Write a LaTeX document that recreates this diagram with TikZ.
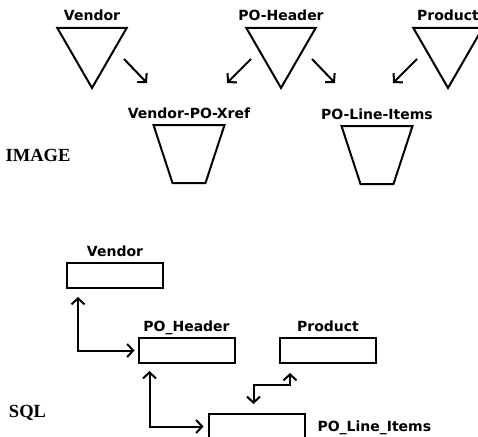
\documentclass[tikz,border=0pt]{standalone}
\usepackage{fontspec}
\setmainfont{Liberation Serif}
\newfontfamily\lblfont{DejaVu Sans}
\usetikzlibrary{arrows.meta,positioning,shapes.geometric}

\begin{document}
\begin{tikzpicture}[x=1pt, y=-1pt,
    line width=2pt,
    lbl/.style={
        font=\lblfont\bfseries\fontsize{14}{16}\selectfont,
        text height=10.2pt,
        text depth=0pt,
        inner sep=1pt
    },
    index/.style={
        draw,
        regular polygon,
        regular polygon sides=3,
        shape border rotate=180,
        minimum size=80pt,
        inner sep=0pt,
        outer sep=0pt,
        label={[lbl, label distance=5pt]above:#1}
    },
    cup/.style={
        rectangle,
        minimum width=71pt,
        minimum height=58pt,
        inner sep=0pt,
        outer sep=0pt,
        label={[lbl, label distance=5pt]above:#1}
    },
    tbl/.style={
        draw,
        rectangle,
        minimum width=96pt,
        minimum height=25pt,
        inner sep=0pt
    },
    kind/.style={font=\bfseries\fontsize{18.5}{20}\selectfont},
    >={Straight Barb[length=6pt,width=13pt]}
]
\useasboundingbox (0,0) rectangle (478,436);

% IMAGE part
\node[kind] (image) at (38,155) {IMAGE};
\node[index=Vendor] (vendor) at (92,48) {};
\node[index=PO-Header] (poheader) at (281,48) {};
\node[index=Product] (product) at (448,48) {};
\node[cup=Vendor-PO-Xref] (xref) at (189,154) {};
\node[cup=PO-Line-Items] (lineitems) at (377,155) {};
\foreach \c in {xref,lineitems}
    \draw (\c.north west) -- (\c.north east)
        -- ([xshift=-19pt]\c.south east) -- ([xshift=19pt]\c.south west) -- cycle;

\coordinate (v1) at (124,59);  \coordinate (v2) at (147,83);
\coordinate (h1) at (251,59);  \coordinate (h2) at (227,83);
\coordinate (h3) at (312,59);  \coordinate (h4) at (335,83);
\coordinate (p1) at (417,59);  \coordinate (p2) at (393,83);
\draw[->] (v1) -- (v2);
\draw[->] (h1) -- (h2);
\draw[->] (h3) -- (h4);
\draw[->] (p1) -- (p2);

% SQL part
\node[kind] (sql) at (27.5,413) {SQL};
\node[tbl, label={[lbl, label distance=4pt]above:Vendor}] (sqlvendor) at (115,275.5) {};
\node[tbl, label={[lbl, label distance=4pt]above:PO\_Header}] (sqlheader) at (186.5,350.5) {};
\node[tbl, label={[lbl, label distance=4pt]above:Product}] (sqlproduct) at (328,350.5) {};
\node[tbl, label={[lbl, label distance=10pt]right:PO\_Line\_Items}] (sqllines) at (256.5,426.5) {};

\draw[<->, shorten <=8pt, shorten >=3pt]
    ([xshift=12pt]sqlvendor.south west) |- (sqlheader.west);
\draw[<->, shorten <=7pt, shorten >=4pt]
    ([xshift=12pt]sqlheader.south west) |- (sqllines.west);
\draw[<->, shorten <=9pt, shorten >=9pt]
    ([xshift=11pt]sqlproduct.south west) -- ++(0,21) -| ([xshift=-3pt]sqllines.north);
\end{tikzpicture}
\end{document}
